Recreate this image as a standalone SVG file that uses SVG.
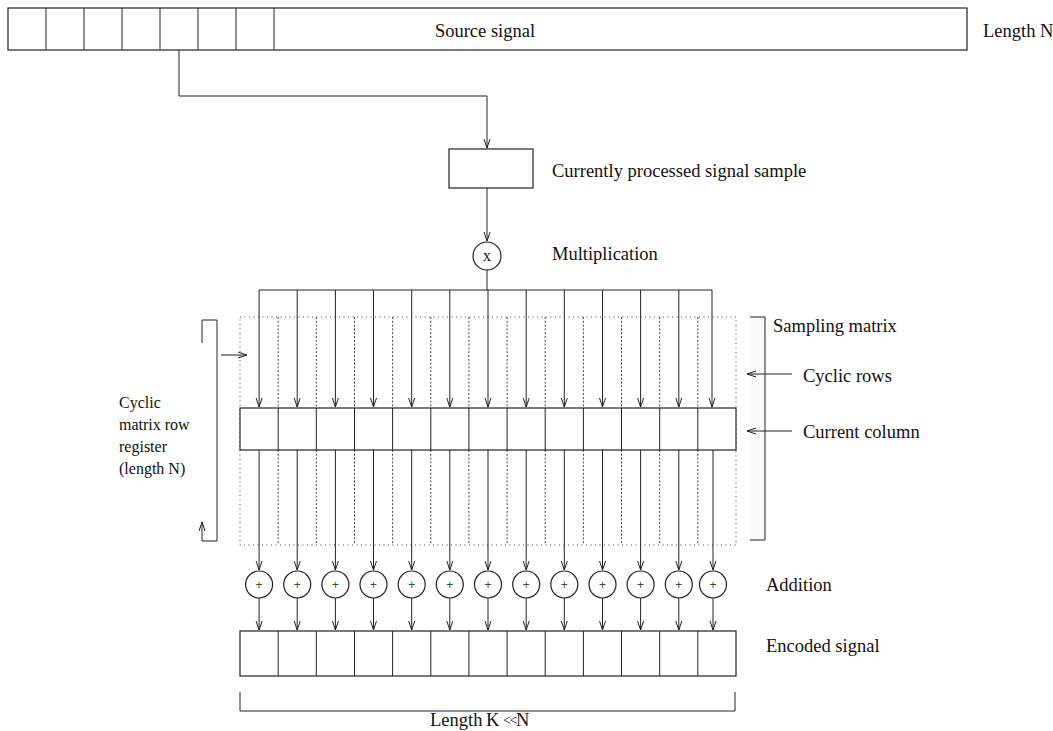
<svg xmlns="http://www.w3.org/2000/svg" width="1053" height="731" viewBox="0 0 1053 731">
<defs>
<style>
.ln{stroke:#222;stroke-width:1;fill:none}
.bx{stroke:#222;stroke-width:1.2;fill:#fff}
.dot{stroke:#444;stroke-width:1;stroke-dasharray:1 3.5;fill:none}
.dash{stroke:#444;stroke-width:1;stroke-dasharray:2 1.8;fill:none}
.t{font-family:"Liberation Serif","Times New Roman",serif;font-size:18.5px;fill:#111}
.ts{font-family:"Liberation Serif","Times New Roman",serif;font-size:16px;fill:#111}
.op{font-family:"Liberation Sans",Arial,sans-serif;font-size:12px;fill:#444;text-anchor:middle}
.a{marker-end:url(#arr)}
</style>
<marker id="arr" markerWidth="10" markerHeight="8" refX="9" refY="3.5" orient="auto" markerUnits="userSpaceOnUse">
<path d="M0,0.5 L9,3.5 L0,6.5" fill="none" stroke="#222" stroke-width="1"/>
</marker>
</defs>
<rect width="1053" height="731" fill="#fff"/>

<g id="source-signal">
<rect class="bx" x="8" y="8" width="959" height="42"/>
<path class="ln" d="M46,8V50M84,8V50M122,8V50M160,8V50M198,8V50M236,8V50M274,8V50"/>
<text class="t" x="485" y="37" text-anchor="middle">Source signal</text>
</g>
<text id="length-n" class="t" x="983" y="37">Length N</text>

<g id="current-sample">
<rect class="bx" x="449" y="149" width="84" height="39"/>
<text class="t" x="552" y="177">Currently processed signal sample</text>
</g>

<g id="multiplication">
<circle class="bx" cx="487" cy="256" r="14"/>
<text class="ts" x="487" y="261" text-anchor="middle" font-size="14px">x</text>
<text class="t" x="552" y="260">Multiplication</text>
</g>

<g id="sampling-matrix">
<rect x="749" y="317" width="16" height="223" fill="#fbfbfb"/>
<rect class="dot" x="240" y="317" width="496" height="228"/>
<path class="dash" d="M278.2,317V545M316.3,317V545M354.5,317V545M392.6,317V545M430.8,317V545M468.9,317V545M507.1,317V545M545.2,317V545M583.4,317V545M621.5,317V545M659.7,317V545M697.8,317V545"/>
<path class="ln" d="M750,317H765V540H750"/>
<text class="t" x="773" y="332">Sampling matrix</text>
<text class="t" x="803" y="382">Cyclic rows</text>
</g>

<g id="current-column">
<rect class="bx" x="240" y="408" width="496" height="42"/>
<path class="ln" d="M278.2,408V450M316.3,408V450M354.5,408V450M392.6,408V450M430.8,408V450M468.9,408V450M507.1,408V450M545.2,408V450M583.4,408V450M621.5,408V450M659.7,408V450M697.8,408V450"/>
<text class="t" x="803" y="438">Current column</text>
</g>

<g id="cyclic-register">
<path class="ln" d="M202,343V320H217V541H202"/>
<text class="ts" x="119" y="408">Cyclic</text>
<text class="ts" x="119" y="430">matrix row</text>
<text class="ts" x="119" y="452">register</text>
<text class="ts" x="119" y="474">(length N)</text>
</g>

<g id="addition">
<circle class="bx" cx="259.1" cy="584.5" r="13.5"/>
<circle class="bx" cx="297.2" cy="584.5" r="13.5"/>
<circle class="bx" cx="335.4" cy="584.5" r="13.5"/>
<circle class="bx" cx="373.5" cy="584.5" r="13.5"/>
<circle class="bx" cx="411.7" cy="584.5" r="13.5"/>
<circle class="bx" cx="449.8" cy="584.5" r="13.5"/>
<circle class="bx" cx="488" cy="584.5" r="13.5"/>
<circle class="bx" cx="526.2" cy="584.5" r="13.5"/>
<circle class="bx" cx="564.3" cy="584.5" r="13.5"/>
<circle class="bx" cx="602.5" cy="584.5" r="13.5"/>
<circle class="bx" cx="640.6" cy="584.5" r="13.5"/>
<circle class="bx" cx="678.8" cy="584.5" r="13.5"/>
<circle class="bx" cx="713" cy="584.5" r="13.5"/>
<text class="op" x="259.1" y="589">+</text>
<text class="op" x="297.2" y="589">+</text>
<text class="op" x="335.4" y="589">+</text>
<text class="op" x="373.5" y="589">+</text>
<text class="op" x="411.7" y="589">+</text>
<text class="op" x="449.8" y="589">+</text>
<text class="op" x="488" y="589">+</text>
<text class="op" x="526.2" y="589">+</text>
<text class="op" x="564.3" y="589">+</text>
<text class="op" x="602.5" y="589">+</text>
<text class="op" x="640.6" y="589">+</text>
<text class="op" x="678.8" y="589">+</text>
<text class="op" x="713" y="589">+</text>
<text class="t" x="766" y="591">Addition</text>
</g>

<g id="encoded-signal">
<rect class="bx" x="240" y="631" width="496" height="45"/>
<path class="ln" d="M278.2,631V676M316.3,631V676M354.5,631V676M392.6,631V676M430.8,631V676M468.9,631V676M507.1,631V676M545.2,631V676M583.4,631V676M621.5,631V676M659.7,631V676M697.8,631V676"/>
<text class="t" x="766" y="652">Encoded signal</text>
</g>

<g id="length-k">
<path class="ln" d="M240,692V711H735V692"/>
<text class="t" x="430" y="726">Length <tspan x="486">K</tspan> <tspan x="503" font-size="14px" letter-spacing="-1.5" dy="-1">&lt;&lt;</tspan> <tspan x="516" dy="1">N</tspan></text>
</g>

<g id="connectors">
<path class="ln a" d="M179,50V96H487V148"/>
<path class="ln a" d="M487,188V241"/>
<path class="ln" d="M487,270V290M259.1,290H712"/>
<path class="ln a" d="M259.1,290V407"/>
<path class="ln a" d="M297.2,290V407"/>
<path class="ln a" d="M335.4,290V407"/>
<path class="ln a" d="M373.5,290V407"/>
<path class="ln a" d="M411.7,290V407"/>
<path class="ln a" d="M449.8,290V407"/>
<path class="ln a" d="M488,290V407"/>
<path class="ln a" d="M526.2,290V407"/>
<path class="ln a" d="M564.3,290V407"/>
<path class="ln a" d="M602.5,290V407"/>
<path class="ln a" d="M640.6,290V407"/>
<path class="ln a" d="M678.8,290V407"/>
<path class="ln a" d="M712,290V407"/>
<path class="ln a" d="M259.1,450V570"/>
<path class="ln a" d="M297.2,450V570"/>
<path class="ln a" d="M335.4,450V570"/>
<path class="ln a" d="M373.5,450V570"/>
<path class="ln a" d="M411.7,450V570"/>
<path class="ln a" d="M449.8,450V570"/>
<path class="ln a" d="M488,450V570"/>
<path class="ln a" d="M526.2,450V570"/>
<path class="ln a" d="M564.3,450V570"/>
<path class="ln a" d="M602.5,450V570"/>
<path class="ln a" d="M640.6,450V570"/>
<path class="ln a" d="M678.8,450V570"/>
<path class="ln a" d="M713,450V570"/>
<path class="ln a" d="M259.1,598V630"/>
<path class="ln a" d="M297.2,598V630"/>
<path class="ln a" d="M335.4,598V630"/>
<path class="ln a" d="M373.5,598V630"/>
<path class="ln a" d="M411.7,598V630"/>
<path class="ln a" d="M449.8,598V630"/>
<path class="ln a" d="M488,598V630"/>
<path class="ln a" d="M526.2,598V630"/>
<path class="ln a" d="M564.3,598V630"/>
<path class="ln a" d="M602.5,598V630"/>
<path class="ln a" d="M640.6,598V630"/>
<path class="ln a" d="M678.8,598V630"/>
<path class="ln a" d="M713,598V630"/>
<path class="ln a" d="M202,541V522"/>
<path class="ln a" d="M221,355H247"/>
<path class="ln a" d="M792,374H747"/>
<path class="ln a" d="M792,431H747"/>
</g>
</svg>
